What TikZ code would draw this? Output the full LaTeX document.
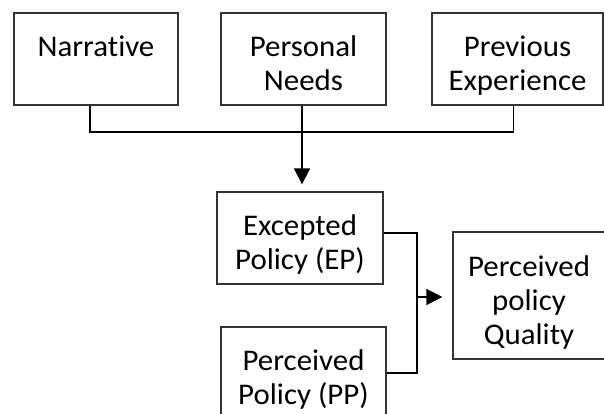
\documentclass[tikz,border=0pt]{standalone}
\usepackage{fontspec}
\setmainfont{Carlito}[Ligatures=NoCommon, FakeStretch=1.03]
\usetikzlibrary{arrows.meta, positioning}
\newcommand{\boxlines}[1]{\raisebox{-8pt}[\height][\depth]{\begin{tabular}{@{}c@{}}#1\end{tabular}}}

\begin{document}
\begin{tikzpicture}[
  x=1pt, y=-1pt,
  box/.style={
    draw=black!80, line width=1.3pt,
    minimum width=165pt, minimum height=92pt,
    font=\fontsize{30}{34}\selectfont,
    inner sep=0pt,
  },
  link/.style={line width=1.7pt},
  arr/.style={link, -{Triangle[length=16pt,width=16pt]}},
]
\clip (0,0) rectangle (604,414);
\node[box, minimum width=164pt] (narr)  at (96,59)    {\boxlines{Narrative\\ \mbox{}}};
\node[box]                      (needs) at (303.5,59) {\boxlines{Personal\\Needs}};
\node[box, minimum width=171pt] (prev)  at (517.5,59) {\boxlines{Previous\\Experience}};
\node[box, minimum width=166pt] (ep)    at (300,238)  {\boxlines{Excepted\\Policy (EP)}};
\node[box]                      (pp)    at (303.5,373) {\boxlines{Perceived\\Policy (PP)}};
\node[box, minimum width=152pt, minimum height=127pt] (qual) at (529,295.5) {\boxlines{Perceived\\policy\\Quality}};

% three inputs merge into EP
\coordinate (join) at (302,132);
\draw[link] ([xshift=-6pt]narr.south) |- (join) -| ([xshift=-4pt]prev.south);
\draw[arr, shorten >=7pt] (join |- needs.south) -- (join |- ep.north);

% EP and PP merge into quality
\coordinate (fork) at (417,297);
\draw[link] ([yshift=5pt]ep.east) -| (fork) |- (pp.east);
\draw[arr, shorten >=10pt] (fork) -- (fork -| qual.west);
\end{tikzpicture}
\end{document}
